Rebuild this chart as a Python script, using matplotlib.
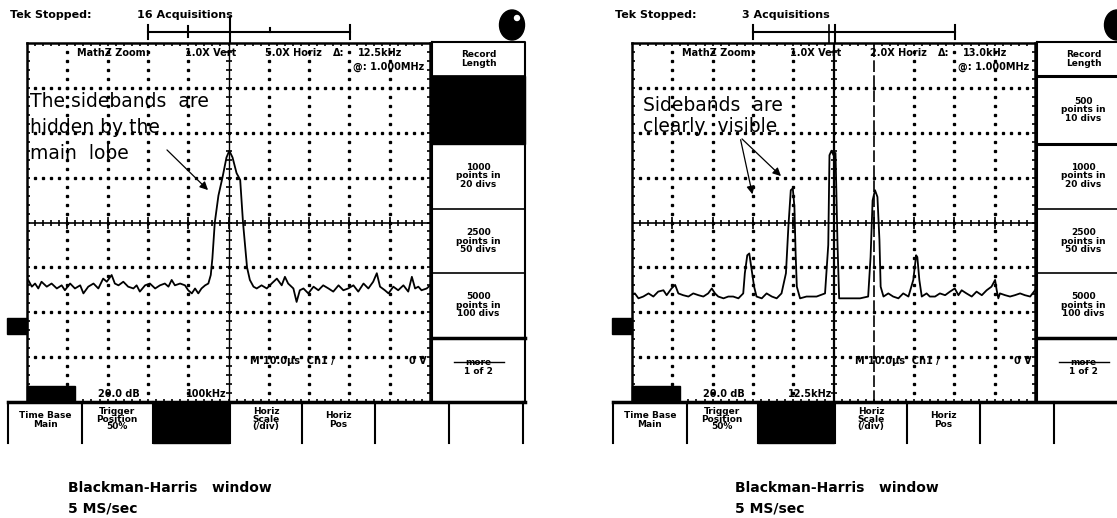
import numpy as np
import matplotlib
matplotlib.use('Agg')
from matplotlib import pyplot as plt
from matplotlib.patches import Rectangle, Ellipse

# --- trace data, in screen divisions (x: 0..10, y: 0..8) ---
left_x = [0.00, 0.03, 0.12, 0.20, 0.28, 0.36, 0.49, 0.61, 0.74, 0.86, 0.94, 1.07, 1.19, 1.32, 1.40,
          1.52, 1.65, 1.77, 1.89, 1.98, 2.10, 2.18, 2.27, 2.39, 2.51, 2.64, 2.72, 2.80, 2.93, 3.05,
          3.18, 3.30, 3.42, 3.51, 3.59, 3.67, 3.80, 3.92, 4.00, 4.09, 4.17, 4.25, 4.33, 4.42, 4.50,
          4.56, 4.60, 4.66, 4.75, 4.85, 4.95, 5.02, 5.10, 5.20, 5.29, 5.36, 5.46, 5.53, 5.62, 5.70,
          5.82, 5.95, 6.07, 6.20, 6.32, 6.40, 6.48, 6.61, 6.69, 6.77, 6.86, 6.98, 7.11, 7.23, 7.35,
          7.48, 7.60, 7.73, 7.85, 7.97, 8.10, 8.22, 8.35, 8.47, 8.59, 8.68, 8.76, 8.88, 8.97, 9.09,
          9.21, 9.34, 9.46, 9.55, 9.63, 9.71, 9.79, 9.92, 10.0]
left_y = [2.70, 2.72, 2.57, 2.64, 2.53, 2.68, 2.57, 2.64, 2.53, 2.60, 2.49, 2.64, 2.53, 2.60, 2.42,
          2.57, 2.64, 2.53, 2.75, 2.68, 2.83, 2.64, 2.60, 2.68, 2.57, 2.53, 2.60, 2.46, 2.60, 2.64,
          2.53, 2.60, 2.64, 2.57, 2.72, 2.60, 2.64, 2.60, 2.49, 2.42, 2.53, 2.42, 2.53, 2.60, 2.64,
          2.83, 3.20, 4.00, 4.60, 5.00, 5.45, 5.60, 5.45, 5.10, 4.95, 4.00, 3.00, 2.72, 2.57, 2.53,
          2.60, 2.53, 2.64, 2.75, 2.60, 2.79, 2.64, 2.53, 2.23, 2.49, 2.53, 2.42, 2.57, 2.49, 2.60,
          2.53, 2.46, 2.60, 2.49, 2.53, 2.60, 2.46, 2.64, 2.53, 2.68, 2.87, 2.57, 2.49, 2.42, 2.57,
          2.49, 2.60, 2.46, 2.79, 2.53, 2.57, 2.49, 2.53, 2.60]

right_x = [0.00, 0.07, 0.16, 0.28, 0.41, 0.53, 0.65, 0.78, 0.86, 0.98, 1.07, 1.15, 1.27, 1.40, 1.52,
           1.65, 1.77, 1.89, 1.98, 2.06, 2.14, 2.27, 2.39, 2.51, 2.64, 2.76, 2.80, 2.86, 2.91, 2.97,
           3.03, 3.09, 3.22, 3.34, 3.47, 3.59, 3.71, 3.82, 3.88, 3.94, 3.99, 4.03, 4.06, 4.09, 4.17,
           4.33, 4.58, 4.79, 4.87, 4.90, 4.95, 5.00, 5.05, 5.10, 5.14, 5.24, 5.41, 5.66, 5.86, 5.92,
           5.97, 6.03, 6.09, 6.14, 6.17, 6.24, 6.36, 6.48, 6.61, 6.73, 6.86, 6.98, 7.05, 7.08, 7.13,
           7.19, 7.31, 7.39, 7.52, 7.64, 7.77, 7.89, 8.01, 8.10, 8.18, 8.30, 8.43, 8.55, 8.68, 8.80,
           8.92, 9.01, 9.05, 9.09, 9.13, 9.26, 9.38, 9.50, 9.63, 9.75, 9.88, 10.0]
right_y = [2.40, 2.42, 2.31, 2.35, 2.42, 2.35, 2.46, 2.49, 2.38, 2.53, 2.61, 2.42, 2.38, 2.35, 2.42,
           2.38, 2.35, 2.42, 2.53, 2.42, 2.35, 2.31, 2.35, 2.35, 2.31, 2.42, 2.87, 3.27, 3.31, 2.94,
           2.57, 2.35, 2.31, 2.42, 2.35, 2.31, 2.42, 2.87, 3.90, 4.72, 4.76, 4.35, 3.31, 2.57, 2.31,
           2.35, 2.35, 2.42, 3.50, 5.50, 5.60, 5.50, 5.55, 3.50, 2.31, 2.31, 2.31, 2.31, 2.35, 3.23,
           4.49, 4.72, 4.57, 3.61, 2.57, 2.35, 2.42, 2.35, 2.31, 2.42, 2.35, 2.72, 3.27, 3.23, 2.72,
           2.35, 2.42, 2.35, 2.35, 2.42, 2.38, 2.46, 2.53, 2.38, 2.49, 2.42, 2.35, 2.46, 2.38, 2.49,
           2.57, 2.72, 2.49, 2.31, 2.42, 2.38, 2.35, 2.38, 2.42, 2.38, 2.35, 2.49]

acquisitions = ['16 Acquisitions', '3 Acquisitions']
horiz_zoom = ['5.0X Horiz', '2.0X Horiz']
delta_freq = ['12.5kHz', '13.0kHz']
center_freq = ['100kHz', '12.5kHz']
notes = [['The sidebands  are', 'hidden by the', 'main  lobe'], ['Sidebands  are', 'clearly  visible']]
caption = ['Blackman-Harris   window', '5 MS/sec']

W, H = 1117, 518
scope_font = ['Liberation Sans Narrow', 'DejaVu Sans']

fig = plt.figure(figsize=(W / 100, H / 100), dpi=100)
fig.patch.set_facecolor('white')


def draw_graticule(off, xs, ys, cursor):
    gx0, gx1, gy0, gy1 = 27 + off, 430 + off, 43, 402
    ax = fig.add_axes([gx0 / W, (H - gy1) / H, (gx1 - gx0) / W, (gy1 - gy0) / H])
    ax.set_xlim(0, 10)
    ax.set_ylim(0, 8)
    ax.set_xticks([])
    ax.set_yticks([])
    for s in ax.spines.values():
        s.set_linewidth(1.8)
    fine_x = np.arange(0.2, 10, 0.2)
    fine_y = np.arange(0.2, 8, 0.2)
    # dotted grid
    for d in range(1, 10):
        if d == 5 or (cursor and d == 6):
            continue
        ax.plot(np.full_like(fine_y, d), fine_y, ls='none', marker='s', ms=1.4, color='black')
    for v in range(1, 8):
        if v == 4:
            continue
        ax.plot(fine_x, np.full_like(fine_x, v), ls='none', marker='s', ms=1.4, color='black')
    # centre crosshair with ticks
    ax.axhline(4, color='black', lw=1.2)
    ax.axvline(5, color='black', lw=1.6 if cursor else 1.0)
    ax.plot(fine_x, np.full_like(fine_x, 4), ls='none', marker='|', ms=5, mew=1.2, color='black')
    ax.plot(np.arange(1, 10), np.full(9, 4), ls='none', marker='|', ms=9, mew=1.2, color='black')
    ax.plot(np.full_like(fine_y, 5), fine_y, ls='none', marker='_', ms=5, mew=1.2, color='black')
    # border ticks (clipped to inside)
    for yb in (0, 8):
        ax.plot(fine_x, np.full_like(fine_x, yb), ls='none', marker='|', ms=5, mew=1.2, color='black')
    for xb in (0, 10):
        ax.plot(np.full_like(fine_y, xb), fine_y, ls='none', marker='_', ms=5, mew=1.2, color='black')
    if cursor:
        ax.axvline(6, color='black', lw=1.2, dashes=(7, 2))
    ax.plot(xs, ys, color='black', lw=1.3)
    return ax


draw_graticule(0, left_x, left_y, False)
draw_graticule(605, right_x, right_y, True)

ov = fig.add_axes([0, 0, 1, 1])
ov.set_xlim(0, W)
ov.set_ylim(H, 0)
ov.axis('off')
ov.patch.set_alpha(0)


def t(x, y, s, size=7, ha='left', va='center', weight='bold', **kw):
    ov.text(x, y, s, fontsize=size, ha=ha, va=va, fontweight=weight, family=scope_font, **kw)


for i, off in enumerate([0, 605]):
    # header
    t(10 + off, 15, 'Tek Stopped:', size=8)
    t(137 + off, 15, acquisitions[i], size=8)
    ov.plot([148 + off, 350 + off], [32, 32], color='black', lw=1.5)
    for bx in (148, 350):
        ov.plot([bx + off, bx + off], [25, 39], color='black', lw=1.5)
    if i == 0:
        ov.plot([188, 188], [26, 37], color='black', lw=1.5)
        ov.plot([270, 270], [28, 32], color='black', lw=1.5)
        ov.plot([230, 230], [17, 43], color='black', lw=1.5)
    else:
        ov.plot([829, 829], [25, 43], color='black', lw=1.2)
        ov.plot([835, 835], [25, 43], color='black', lw=1.5)
    ov.add_patch(Ellipse((512 + off, 25), 25, 30, color='black'))
    ov.add_patch(Ellipse((517 + off, 18), 5, 5, color='white'))

    # readouts inside graticule
    t(77 + off, 53, 'MathZ Zoom:', size=7)
    t(185 + off, 53, '1.0X Vert', size=7)
    t(265 + off, 53, horiz_zoom[i], size=7)
    t(333 + off, 53, '\u0394:', size=7)
    t(358 + off, 53, delta_freq[i], size=7)
    t(424 + off, 67, '@: 1.000MHz', size=7, ha='right')
    t(98 + off, 394, '20.0 dB', size=7)
    t(227 + off, 394, center_freq[i], size=7, ha='right')
    t(250 + off, 361, 'M 10.0\u00b5s  Ch1 /', size=7)
    t(427 + off, 361, '0 V', size=7, ha='right')
    ov.add_patch(Rectangle((27 + off, 386), 48, 16, color='black'))
    ov.add_patch(Rectangle((7 + off, 318), 20, 16, color='black'))

    # annotation
    lines = notes[i]
    base = [107, 133, 159] if i == 0 else [111, 132]
    for ln, by in zip(lines, base):
        ov.text(30 + off + (8 if i else 0), by, ln, fontsize=13.5, family='DejaVu Sans', va='baseline')
    if i == 0:
        ov.annotate('', xy=(210, 192), xytext=(165, 148),
                    arrowprops=dict(arrowstyle='-|>', color='black', lw=0.9, mutation_scale=12))
    else:
        for tip in [(753, 197), (783, 178)]:
            ov.annotate('', xy=tip, xytext=(740, 137),
                        arrowprops=dict(arrowstyle='-|>', color='black', lw=0.9, mutation_scale=12))

    # side menu
    px0, px1 = 432 + off, 525 + off
    ov.plot([px0, px1, px1], [42, 42, 402], color='black', lw=1.5)
    ov.plot([px0, px0], [42, 402], color='black', lw=1.5)
    for yl, lw in [(76, 2.2 if i else 1.2), (144, 2.2 if i else 1.2), (209, 1.2), (273, 1.2), (338, 2.5)]:
        ov.plot([px0, px1], [yl, yl], color='black', lw=lw)
    cx = (px0 + px1) / 2
    t(cx, 59, 'Record\nLength', size=6.5, ha='center', linespacing=0.95)
    if i == 0:
        ov.add_patch(Rectangle((px0, 76), px1 - px0, 68, color='black'))
    else:
        t(cx, 110, '500\npoints in\n10 divs', size=6.5, ha='center', linespacing=0.9)
    t(cx, 176, '1000\npoints in\n20 divs', size=6.5, ha='center', linespacing=0.9)
    t(cx, 241, '2500\npoints in\n50 divs', size=6.5, ha='center', linespacing=0.9)
    t(cx, 305, '5000\npoints in\n100 divs', size=6.5, ha='center', linespacing=0.9)
    t(cx, 367, 'more\n1 of 2', size=6.5, ha='center', linespacing=0.9)
    ov.plot([cx - 25, cx + 25], [362, 362], color='black', lw=1.0)

    # bottom menu
    ov.plot([8 + off, 525 + off], [402, 402], color='black', lw=2.5)
    for vx in [8, 82, 153, 230, 302, 375, 449, 523]:
        ov.plot([vx + off, vx + off], [402, 443], color='black', lw=1.5)
    ov.add_patch(Rectangle((153 + off, 402), 76, 41, color='black'))
    t(45 + off, 420, 'Time Base\nMain', size=6.5, ha='center', linespacing=0.9)
    t(117 + off, 419, 'Trigger\nPosition\n50%', size=6.5, ha='center', linespacing=0.85)
    t(266 + off, 419, 'Horiz\nScale\n(/div)', size=6.5, ha='center', linespacing=0.85)
    t(338 + off, 420, 'Horiz\nPos', size=6.5, ha='center', linespacing=0.9)

    # caption
    cap_x = 68 if i == 0 else 735
    t(cap_x, 488, caption[0], size=10)
    t(cap_x, 509, caption[1], size=10)

fig.savefig('out.png', dpi=100)
